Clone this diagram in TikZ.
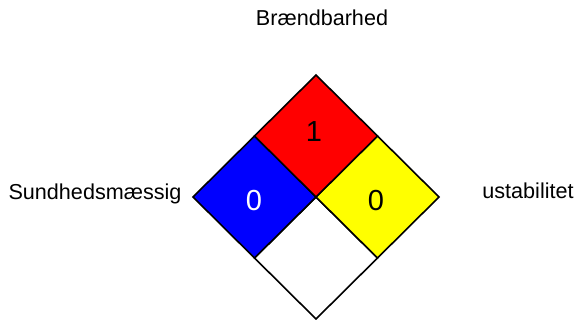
\documentclass[tikz,border=0pt]{standalone}
\usepackage{fontspec}
\setmainfont{Liberation Sans}
\usepackage{xcolor}
\usepackage{tikz}
\usetikzlibrary{calc}
\definecolor{health}{HTML}{0000FF}
\definecolor{fire}{HTML}{FF0000}
\definecolor{react}{HTML}{FFFF00}
\tikzset{
  cell/.style={draw=black, line width=1.6pt, line join=miter},
  num/.style={font=\fontsize{29}{33}\selectfont, inner sep=0pt},
  lab/.style={font=\fontsize{21.6}{25}\selectfont, inner sep=0pt, anchor=base},
}

\begin{document}
\begin{tikzpicture}[x=1pt,y=-1pt]
  \useasboundingbox (0,0) rectangle (577,320);
  \coordinate (C) at (316,197);
  \coordinate (T) at (316,75);
  \coordinate (L) at (193,197);
  \coordinate (R) at (439,197);
  \coordinate (B) at (316,319);
  \coordinate (TL) at ($(T)!0.5!(L)$);
  \coordinate (TR) at ($(T)!0.5!(R)$);
  \coordinate (BL) at ($(B)!0.5!(L)$);
  \coordinate (BR) at ($(B)!0.5!(R)$);
  \filldraw[cell, fill=white] (C)--(BR)--(B)--(BL)--cycle;
  \filldraw[cell, fill=health] (TL)--(C)--(BL)--(L)--cycle;
  \filldraw[cell, fill=react] (TR)--(R)--(BR)--(C)--cycle;
  \filldraw[cell, fill=fire] (T)--(TR)--(C)--(TL)--cycle;
  \node[num] (firenum) at (314,132) {1};
  \node[num, text=white] (healthnum) at (254,201) {0};
  \node[num] (reactnum) at (376,201) {0};
  \node[lab] (firelab) at (322,26) {Brændbarhed};
  \node[lab] (healthlab) at (95,200) {Sundhedsmæssig};
  \node[lab] (reactlab) at (528,198) {ustabilitet};
\end{tikzpicture}
\end{document}
